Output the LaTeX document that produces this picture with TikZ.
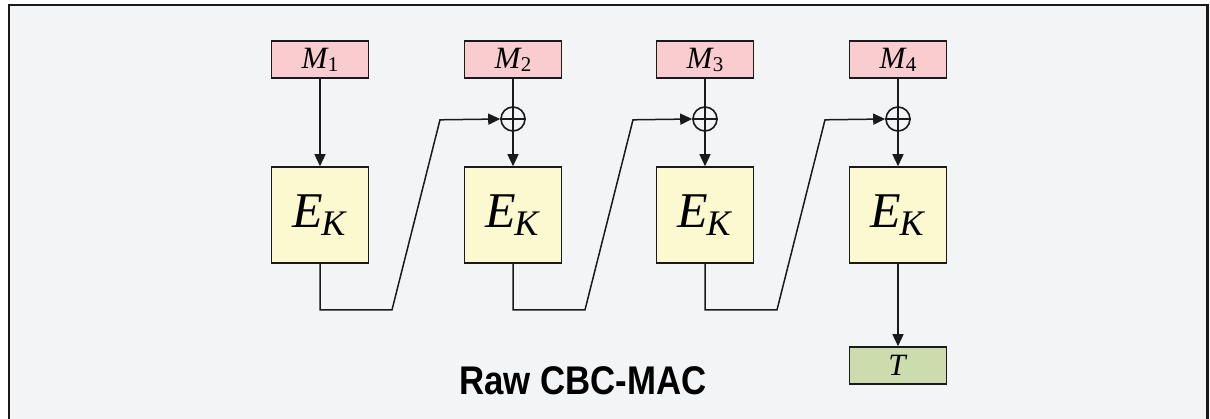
\documentclass[tikz,border=0pt]{standalone}
\usepackage{fontspec}
\setmainfont{Liberation Serif}
\newfontfamily\titlefont[FakeStretch=0.87]{Liberation Sans}
\usetikzlibrary{arrows.meta,calc}
\definecolor{bgc}{HTML}{F3F4F6}
\definecolor{mpink}{HTML}{F9CDD0}
\definecolor{eyel}{HTML}{FCF8CF}
\definecolor{tgrn}{HTML}{CDDCAD}
\definecolor{edge}{HTML}{1A1A1A}
\tikzset{
  base/.style={draw=edge, line width=1.6pt, inner sep=0pt, anchor=center},
  mbox/.style={base, fill=mpink, minimum width=97pt, minimum height=37pt, font=\fontsize{31}{32}\selectfont},
  ebox/.style={base, fill=eyel, minimum width=97pt, minimum height=96pt, font=\fontsize{50}{52}\selectfont},
  tbox/.style={base, fill=tgrn, minimum width=97pt, minimum height=37pt, font=\fontsize{31}{32}\selectfont},
  xorc/.style={draw=edge, line width=1.6pt, circle, minimum size=24pt, inner sep=0pt},
  conn/.style={draw=edge, line width=1.5pt, -{Triangle[length=12pt,width=11pt]}},
  plain/.style={draw=edge, line width=1.5pt}
}
\newcommand{\msub}[2]{\textit{#1}\kern-1pt\raisebox{-3pt}{\fontsize{21}{22}\selectfont #2}}
\newcommand{\ek}{\textit{E}\kern-2pt\raisebox{-8pt}{\fontsize{36}{38}\selectfont\textit{K}}}
\begin{document}
\begin{tikzpicture}[x=1pt,y=-1pt]
\useasboundingbox (0,0) rectangle (1210,418);
\fill[white] (0,0) rectangle (1210,418);
\filldraw[fill=bgc, draw=edge, line width=2.2pt] (9,5) -- (9,425) -- (1207.5,425) -- (1207.5,5) -- cycle;
% message boxes and block ciphers
\foreach \i/\x in {1/320,2/513,3/705,4/898}{
  \node[mbox] (m\i) at (\x,59.5) {\msub{M}{\i}};
  \node[ebox] (e\i) at (\x,215) {\ek};
}
\foreach \i/\x in {2/513,3/705,4/898}{
  \node[xorc] (x\i) at (\x,119) {};
  \draw[plain] (x\i.north) -- (x\i.south) (x\i.west) -- (x\i.east);
}
\node[tbox] (t) at (898,365.5) {\textit{T}};
% vertical connectors
\draw[conn] (m1.south) -- (e1.north);
\foreach \i in {2,3,4}{
  \draw[plain] (m\i.south) -- (x\i.north);
  \draw[conn] (x\i.south) -- (e\i.north);
}
\draw[conn] (e4.south) -- (t.north);
% chaining
\foreach \i/\j in {1/2,2/3,3/4}{
  \draw[conn] (e\i.south) -- ++(0,46) -- ++(72,0) -- ($(e\i.south)+(120,-144)$) -- (x\j.west);
}
\node[font=\titlefont\bfseries\fontsize{40}{42}\selectfont] (title) at (583,381) {Raw CBC-MAC};
\end{tikzpicture}
\end{document}
